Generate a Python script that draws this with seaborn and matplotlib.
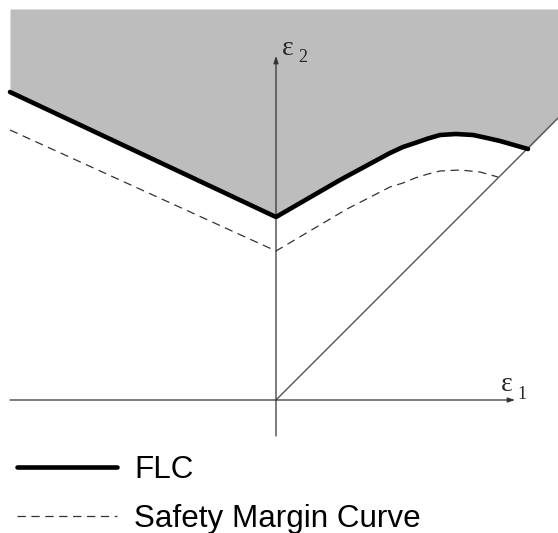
import matplotlib
matplotlib.use("Agg")
import matplotlib.pyplot as plt
import seaborn as sns
import numpy as np
import pandas as pd

# ---- data ----
flc_e1 = [-2.66, 0.00, 0.64, 1.14, 1.27, 1.39, 1.52, 1.64, 1.80, 1.97, 2.11, 2.24, 2.52]
flc_e2 = [3.08, 1.83, 2.20, 2.47, 2.53, 2.57, 2.615, 2.65, 2.66, 2.65, 2.62, 2.59, 2.51]
safe_e1 = [-2.66, 0.00, 0.71, 1.14, 1.27, 1.39, 1.52, 1.64, 1.84, 2.04, 2.22]
safe_e2 = [2.70, 1.49, 1.91, 2.13, 2.17, 2.22, 2.26, 2.29, 2.30, 2.28, 2.23]
diag_e1 = [0.0, 2.82]
diag_e2 = [0.0, 2.82]
legend_labels = ["FLC", "Safety Margin Curve"]
axis_labels = ["ε", "1", "ε", "2"]

sns.set_theme(style="white")
plt.rcParams["font.family"] = ["Liberation Sans", "DejaVu Sans"]
plt.rcParams["lines.scale_dashes"] = False

fig = plt.figure(figsize=(5.58, 5.33), dpi=100)
ax = fig.add_axes([0, 0, 1, 1])
ax.set_xlim(-2.76, 2.82)
ax.set_ylim(-1.33, 4.00)
ax.axis("off")

# shaded failure region above FLC and the diagonal
top = 3.91
fx = flc_e1 + [diag_e1[1]]
fy = flc_e2 + [diag_e2[1]]
ax.fill_between(fx, fy, top, color="#bdbdbd", lw=0, zorder=1)

# diagonal
sns.lineplot(x=diag_e1, y=diag_e2, ax=ax, color="#555555", lw=1.0, zorder=2)

# axes with arrows
ax.annotate("", xy=(0, 3.44), xytext=(0, -0.36),
            arrowprops=dict(arrowstyle="-|>,head_length=0.35,head_width=0.12",
                            color="#333333", lw=0.9, shrinkA=0, shrinkB=0), zorder=3)
ax.annotate("", xy=(2.39, 0), xytext=(-2.66, 0),
            arrowprops=dict(arrowstyle="-|>,head_length=0.35,head_width=0.12",
                            color="#333333", lw=0.9, shrinkA=0, shrinkB=0), zorder=3)

# curves
df_flc = pd.DataFrame({"e1": flc_e1, "e2": flc_e2})
df_safe = pd.DataFrame({"e1": safe_e1, "e2": safe_e2})
sns.lineplot(data=df_flc, x="e1", y="e2", sort=False, ax=ax, color="black",
             lw=3.3, label=legend_labels[0], zorder=4,
             solid_joinstyle="round", solid_capstyle="round")
sns.lineplot(data=df_safe, x="e1", y="e2", sort=False, ax=ax, color="#333333",
             lw=0.9, dashes=False, label=legend_labels[1], zorder=4)
ax.lines[-1].set_dashes((6, 4))

# axis labels
serif = ["Liberation Serif", "DejaVu Serif"]
ax.text(2.25, 0.03, axis_labels[0], fontsize=20, family=serif, ha="left", va="bottom")
ax.text(2.41, -0.03, axis_labels[1], fontsize=13, family=serif, ha="left", va="bottom")
ax.text(0.06, 3.39, axis_labels[2], fontsize=20, family=serif, ha="left", va="bottom")
ax.text(0.22, 3.34, axis_labels[3], fontsize=13, family=serif, ha="left", va="bottom")

leg = ax.legend(loc="upper left", bbox_to_anchor=(17 / 558, 1 - 455 / 533),
                frameon=False, fontsize=22.6, handlelength=3.2, handletextpad=0.53,
                labelspacing=0.62, borderpad=0, borderaxespad=0)
for t in leg.get_texts():
    t.set_color("black")

fig.savefig("out.png", dpi=100)
